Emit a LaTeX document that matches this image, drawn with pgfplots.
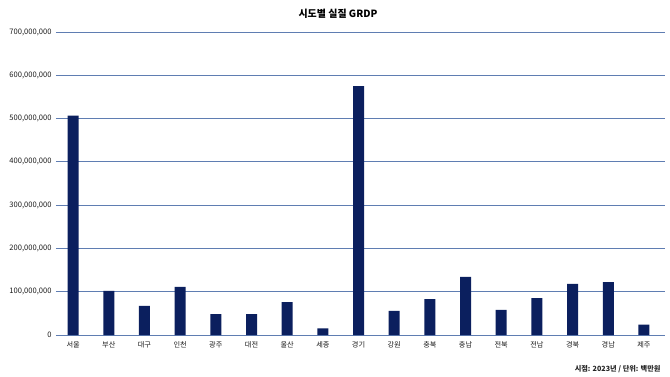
\documentclass[border=0pt]{standalone}
\usepackage{pgfplots}
\pgfplotsset{compat=1.18}
\usepackage{fontspec}
\setmainfont{Noto Sans CJK KR}
\definecolor{barnavy}{HTML}{0B1F5E}
\definecolor{gridblue}{HTML}{5F7DB2}
\begin{document}
\begin{tikzpicture}
\path[use as bounding box] (0,0) rectangle (670bp,377bp);
\begin{axis}[
  at={(56bp,42bp)}, anchor=south west,
  scale only axis, width=609bp, height=303bp,
  ymin=0, ymax=700000000,
  ytick={0,100000000,200000000,300000000,400000000,500000000,600000000,700000000},
  scaled y ticks=false,
  yticklabel style={/pgf/number format/fixed,/pgf/number format/1000 sep={,},/pgf/number format/assume math mode=true,font=\fontsize{7.6}{8}\selectfont, text=black!90},
  xmin=-0.48, xmax=16.59,
  xtick={0,...,16},
  xticklabels={서울,부산,대구,인천,광주,대전,울산,세종,경기,강원,충북,충남,전북,전남,경북,경남,제주},
  xticklabel style={font=\fontsize{7.2}{8}\selectfont, text=black!90, yshift=-3bp},
  ymajorgrids, major grid style={gridblue, line width=0.8pt},
  axis line style={draw=none},
  major tick length=0pt,
  yticklabel style={xshift=-1bp},
  clip=false,
]
\addplot[ybar, bar width=11bp, fill=barnavy, draw=none] coordinates {
(0,507000000) (1,102000000) (2,67000000) (3,111000000) (4,48000000)
(5,48500000) (6,76000000) (7,15500000) (8,575000000) (9,55500000)
(10,83000000) (11,134000000) (12,58000000) (13,85000000) (14,118000000)
(15,122000000) (16,24000000)};
\end{axis}
\node[font=\fontsize{10}{12}\selectfont\bfseries] at (338bp,363bp) {시도별 실질 GRDP};
\node[font=\fontsize{7.2}{8}\selectfont\bfseries, anchor=east, text=black!85] at (664bp,8bp) {시점: 2023년 / 단위: 백만원};
\end{tikzpicture}
\end{document}
